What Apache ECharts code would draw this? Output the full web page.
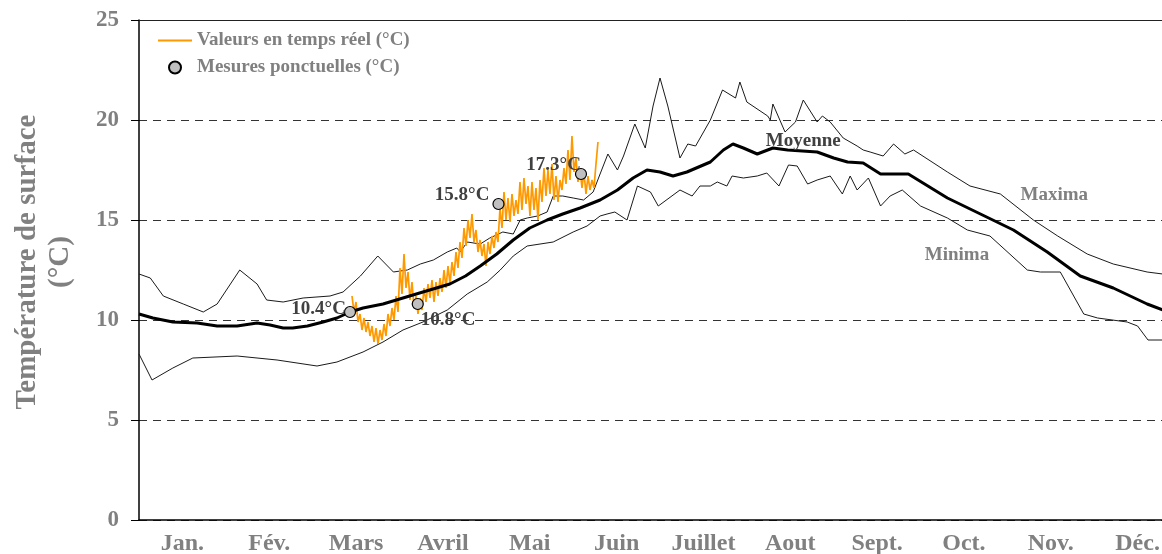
<!DOCTYPE html>
<html>
<head>
<meta charset="utf-8">
<script src="https://cdn.jsdelivr.net/npm/echarts@6/dist/echarts.min.js"></script>
<style>
  html, body { margin: 0; padding: 0; background: #fff; }
  #chart-container { width: 1162px; height: 554px; }
</style>
</head>
<body>
<div id="chart-container"></div>
<script>
// x positions are in months since 1 Jan (0 = start of Jan., 12 = end of Déc.)
var months = ['Jan.', 'Fév.', 'Mars', 'Avril', 'Mai', 'Juin', 'Juillet', 'Aout', 'Sept.', 'Oct.', 'Nov.', 'Déc.'];

var maxima = [
  [0.00, 12.3], [0.13, 12.1], [0.28, 11.2], [0.51, 10.8], [0.74, 10.4], [0.90, 10.8], [1.16, 12.5],
  [1.36, 11.8], [1.47, 11.0], [1.66, 10.9], [1.89, 11.1], [2.20, 11.2], [2.35, 11.4], [2.55, 12.2],
  [2.75, 13.2], [2.93, 12.4], [3.09, 12.5], [3.24, 12.8], [3.39, 13.0], [3.55, 13.4], [3.66, 13.6],
  [3.70, 13.4], [3.78, 13.9], [3.93, 13.8], [4.04, 14.1], [4.19, 14.4], [4.31, 14.3], [4.39, 15.0],
  [4.47, 15.1], [4.59, 15.2], [4.70, 15.4], [4.77, 16.2], [4.88, 16.2], [5.00, 16.1], [5.12, 16.0],
  [5.23, 16.4], [5.31, 17.3], [5.40, 18.3], [5.51, 17.5], [5.58, 18.2], [5.71, 19.8], [5.83, 18.6],
  [5.92, 20.7], [6.00, 22.1], [6.09, 20.7], [6.23, 18.1], [6.32, 18.8], [6.41, 18.7], [6.58, 20.0],
  [6.72, 21.5], [6.87, 21.1], [6.92, 21.9], [7.00, 20.9], [7.24, 20.2], [7.27, 20.0], [7.30, 20.8],
  [7.44, 19.4], [7.56, 19.9], [7.65, 21.0], [7.81, 19.9], [7.87, 20.2], [7.96, 19.9], [8.11, 19.1],
  [8.27, 18.7], [8.34, 18.5], [8.42, 18.4], [8.57, 18.2], [8.69, 18.8], [8.82, 18.3], [8.92, 18.5],
  [9.31, 17.4], [9.57, 16.7], [9.92, 16.3], [10.30, 15.0], [10.58, 14.2], [10.92, 13.3], [11.22, 12.8],
  [11.61, 12.4], [11.79, 12.3]
];

var minima = [
  [0.00, 8.3], [0.15, 7.0], [0.39, 7.6], [0.62, 8.1], [1.13, 8.2], [1.59, 8.0], [2.05, 7.7],
  [2.28, 7.9], [2.58, 8.4], [2.81, 8.9], [3.04, 9.5], [3.27, 9.9], [3.55, 10.5], [3.78, 11.3],
  [4.01, 11.9], [4.16, 12.5], [4.31, 13.2], [4.47, 13.7], [4.77, 13.9], [5.00, 14.4], [5.16, 14.7],
  [5.31, 15.2], [5.39, 15.3], [5.48, 15.4], [5.62, 15.0], [5.74, 16.7], [5.89, 16.4], [5.98, 15.7],
  [6.23, 16.5], [6.37, 16.2], [6.46, 16.7], [6.58, 16.7], [6.66, 16.9], [6.77, 16.7], [6.83, 17.2],
  [6.96, 17.1], [7.12, 17.2], [7.23, 17.35], [7.37, 16.7], [7.48, 17.75], [7.58, 17.7], [7.70, 16.8],
  [7.81, 17.0], [7.96, 17.2], [8.10, 16.3], [8.19, 17.2], [8.27, 16.5], [8.40, 17.1], [8.54, 15.7],
  [8.65, 16.2], [8.79, 16.5], [9.00, 15.7], [9.31, 15.1], [9.54, 14.5], [9.80, 14.2], [10.23, 12.5],
  [10.38, 12.4], [10.61, 12.4], [10.88, 10.3], [11.04, 10.1], [11.38, 9.9], [11.50, 9.7], [11.62, 9.0],
  [11.79, 9.0]
];

var moyenne = [
  [0.00, 10.3], [0.16, 10.1], [0.39, 9.9], [0.67, 9.85], [0.90, 9.7], [1.13, 9.7], [1.36, 9.85],
  [1.51, 9.75], [1.66, 9.6], [1.77, 9.6], [1.94, 9.7], [2.12, 9.9], [2.28, 10.1], [2.43, 10.4],
  [2.58, 10.6], [2.81, 10.8], [3.04, 11.1], [3.27, 11.4], [3.58, 11.8], [3.76, 12.2], [3.93, 12.7],
  [4.12, 13.3], [4.31, 14.0], [4.50, 14.6], [4.70, 15.0], [4.88, 15.3], [5.08, 15.6], [5.31, 16.0],
  [5.51, 16.5], [5.69, 17.1], [5.85, 17.5], [6.00, 17.4], [6.15, 17.2], [6.31, 17.4], [6.58, 17.9],
  [6.73, 18.5], [6.84, 18.8], [6.96, 18.6], [7.12, 18.3], [7.30, 18.6], [7.47, 18.5], [7.81, 18.4],
  [8.00, 18.1], [8.16, 17.9], [8.34, 17.85], [8.54, 17.3], [8.86, 17.3], [9.31, 16.1], [9.69, 15.3],
  [10.07, 14.5], [10.46, 13.4], [10.84, 12.2], [11.22, 11.6], [11.61, 10.8], [11.79, 10.5]
];

// real-time record, evenly sampled
var realtimeStart = 2.453;
var realtimeStep = 0.02303;
var realtime = [
  11.2, 10.4, 10.9, 9.9, 10.3, 9.5, 10.1, 9.4, 9.9, 9.2,
  9.7, 8.9, 9.6, 8.8, 9.5, 9.0, 9.8, 9.2, 10.3, 9.7,
  10.6, 10.0, 11.2, 10.4, 12.6, 11.3, 13.3, 11.6, 12.4, 11.0,
  11.9, 10.6, 11.2, 10.3, 11.1, 10.5, 11.6, 10.9, 11.8, 11.1,
  12.0, 10.9, 11.9, 11.2, 12.1, 11.4, 12.5, 11.6, 12.7, 11.8,
  12.9, 12.2, 13.4, 12.6, 13.9, 13.1, 14.6, 13.7, 15.0, 14.1,
  15.3, 13.9, 14.5, 13.4, 14.0, 13.2, 13.8, 12.7, 13.9, 13.3,
  14.2, 13.6, 14.4, 13.9, 15.6, 14.6, 16.4, 15.0, 16.1, 14.9,
  16.3, 15.2, 16.0, 15.3, 16.9, 15.5, 17.1, 15.8, 16.7, 15.2,
  16.9, 15.5, 16.6, 15.0, 17.0, 15.9, 17.6, 16.2, 17.5, 16.3,
  17.8, 16.0, 17.2, 15.9, 17.0, 16.5, 17.6, 16.8, 18.5, 17.0,
  19.2, 17.4, 18.1, 16.9, 17.6, 16.6, 17.4, 16.3, 17.2, 16.5,
  17.0, 16.6, 17.8, 18.9
];

var mesures = [[2.43, 10.4], [3.21, 10.8], [4.14, 15.8], [5.09, 17.3]];

var serif = '"Liberation Serif", "Times New Roman", serif';
var grey = '#808080';
var dark = '#404040';

var dom = document.getElementById('chart-container');
var myChart = echarts.init(dom, null, { renderer: 'canvas' });

var realtimeData = realtime.map(function (v, i) {
  return [realtimeStart + i * realtimeStep, v];
});

// where each point label sits around its marker
var mesureLabels = [
  { position: 'left', distance: -2, offset: [0, -3] },
  { position: 'right', distance: -3, offset: [0, 16] },
  { position: 'left', distance: 3, offset: [0, -9] },
  { position: 'left', distance: -6, offset: [0, -9] }
];
var mesureData = mesures.map(function (p, i) {
  return { value: p, label: mesureLabels[i] };
});

function tag(text, coord, color) {
  return {
    symbol: 'rect',
    symbolSize: 1,
    silent: true,
    itemStyle: { color: 'rgba(0,0,0,0)' },
    label: {
      show: true,
      position: 'inside',
      formatter: text,
      color: color,
      fontFamily: serif,
      fontWeight: 'bold',
      fontSize: 19
    },
    data: [{ coord: coord }]
  };
}

var option = {
  animation: false,
  grid: { left: 139, top: 20, width: 1042, height: 500, outerBoundsMode: 'none' },
  legend: {
    orient: 'vertical',
    left: 153,
    top: 26,
    itemWidth: 34,
    itemHeight: 12,
    itemGap: 8,
    selectedMode: false,
    data: [
      { name: 'Valeurs en temps réel (°C)', icon: 'path://M0,0L34,0L34,2L0,2Z' },
      { name: 'Mesures ponctuelles (°C)' }
    ],
    textStyle: { fontFamily: serif, fontWeight: 'bold', fontSize: 19, color: grey }
  },
  xAxis: [
    {
      type: 'category',
      data: months,
      position: 'bottom',
      boundaryGap: true,
      axisLine: { lineStyle: { color: '#000', width: 1.5 } },
      axisTick: { length: 8, lineStyle: { color: '#000', width: 1 } },
      axisLabel: {
        interval: 0,
        margin: 12,
        fontFamily: serif,
        fontWeight: 'bold',
        fontSize: 24,
        color: grey
      },
      splitLine: { show: false }
    },
    {
      type: 'value',
      min: 0,
      max: 12,
      position: 'top',
      axisLine: { show: true, lineStyle: { color: '#222', width: 1 } },
      axisTick: { show: false },
      axisLabel: { show: false },
      splitLine: { show: false }
    }
  ],
  yAxis: {
    type: 'value',
    min: 0,
    max: 25,
    interval: 5,
    name: 'Température de surface\n(°C)',
    nameLocation: 'middle',
    nameGap: 62,
    nameTextStyle: {
      fontFamily: serif,
      fontWeight: 'bold',
      fontSize: 29,
      lineHeight: 33,
      color: grey,
      padding: [0, 0, 0, 16]
    },
    axisLine: { show: true, lineStyle: { color: '#000', width: 1.5 } },
    axisTick: { show: true, length: 8, lineStyle: { color: '#000', width: 1 } },
    axisLabel: {
      margin: 20,
      fontFamily: serif,
      fontWeight: 'bold',
      fontSize: 23,
      color: grey
    },
    splitLine: { lineStyle: { color: '#333', width: 1, type: [8, 6] } }
  },
  series: [
    {
      name: 'Maxima',
      type: 'line',
      xAxisIndex: 1,
      data: maxima,
      symbol: 'none',
      lineStyle: { color: '#1a1a1a', width: 1 },
      markPoint: tag('Maxima', [10.54, 16.27], grey)
    },
    {
      name: 'Minima',
      type: 'line',
      xAxisIndex: 1,
      data: minima,
      symbol: 'none',
      lineStyle: { color: '#1a1a1a', width: 1 },
      markPoint: tag('Minima', [9.42, 13.27], grey)
    },
    {
      name: 'Valeurs en temps réel (°C)',
      type: 'line',
      xAxisIndex: 1,
      data: realtimeData,
      symbol: 'none',
      itemStyle: { color: '#FF9900' },
      lineStyle: { color: '#FF9900', width: 1.7 }
    },
    {
      name: 'Moyenne',
      type: 'line',
      xAxisIndex: 1,
      data: moyenne,
      symbol: 'none',
      lineStyle: { color: '#000', width: 3 },
      markPoint: tag('Moyenne', [7.65, 18.96], dark)
    },
    {
      name: 'Mesures ponctuelles (°C)',
      type: 'scatter',
      xAxisIndex: 1,
      data: mesureData,
      symbol: 'circle',
      symbolSize: 11,
      itemStyle: { color: '#C0C0C0', borderColor: '#000', borderWidth: 1.2, opacity: 1 },
      label: {
        show: true,
        formatter: function (p) { return p.value[1].toFixed(1) + '°C'; },
        fontFamily: serif,
        fontWeight: 'bold',
        fontSize: 19,
        color: dark
      },
      z: 5
    }
  ]
};

myChart.setOption(option);
window.addEventListener('resize', myChart.resize);
</script>
</body>
</html>
